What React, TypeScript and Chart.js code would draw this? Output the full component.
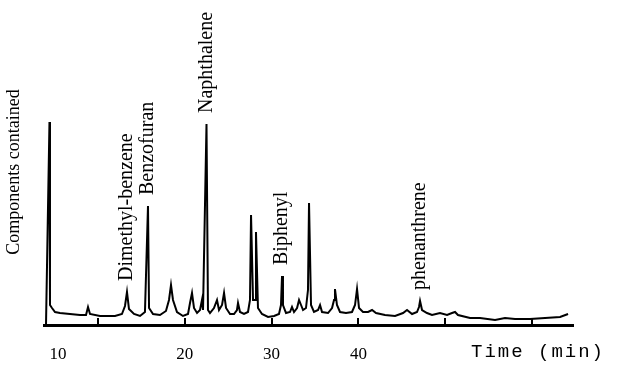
import { useEffect, useRef } from 'react';
import { Chart, registerables } from 'chart.js';

Chart.register(...registerables);

// Chromatogram trace: retention time (min) and detector signal (arbitrary units)
const timeMin = [
  4.01, 4.41, 4.47, 4.70, 5.05, 5.62, 6.77, 7.93, 8.62, 8.85, 9.08, 10.23, 11.96, 12.76,
  13.11, 13.34, 13.57, 14.15, 14.84, 15.41, 15.76, 15.88, 16.34, 17.14, 17.83, 18.18, 18.41,
  18.64, 19.10, 19.79, 20.37, 20.60, 20.83, 21.06, 21.41, 21.75, 21.98, 22.10, 22.50, 22.67,
  22.90, 23.36, 23.71, 23.94, 24.29, 24.52, 24.75, 25.21, 25.67, 26.01, 26.13, 26.36, 26.82,
  27.28, 27.51, 27.63, 27.86, 28.09, 28.20, 28.43, 28.89, 29.59, 30.28, 30.85, 31.08, 31.20,
  31.31, 31.66, 32.12, 32.35, 32.58, 32.93, 33.16, 33.39, 33.62, 33.96, 34.19, 34.31, 34.54,
  34.88, 35.35, 35.58, 35.81, 36.50, 36.96, 37.19, 37.30, 37.53, 37.88, 38.57, 39.26, 39.61,
  39.84, 40.07, 40.53, 41.11, 41.57, 42.03, 43.06, 44.22, 45.14, 45.60, 46.18, 46.75, 46.98,
  47.10, 47.33, 47.90, 48.48, 49.40, 50.21, 50.78, 51.13, 51.47, 52.86, 54.01, 55.74, 56.89,
  58.04, 59.77, 61.50, 63.23, 64.15,
];
const signal = [
  0, 203, 20, 17, 13, 12, 11, 10, 10, 18, 11, 9, 9, 11,
  19, 33, 16, 11, 9, 13, 119, 17, 11, 10, 14, 25, 40,
  25, 13, 9, 11, 22, 32, 17, 12, 15, 25, 15, 201, 15,
  12, 17, 25, 15, 20, 32, 17, 11, 11, 15, 22, 13, 11,
  13, 25, 110, 25, 25, 93, 17, 11, 8, 9, 11, 20, 49,
  20, 12, 13, 18, 13, 17, 25, 20, 15, 17, 35, 122, 20,
  13, 15, 20, 13, 12, 17, 25, 36, 20, 13, 12, 13, 20,
  36, 17, 13, 13, 15, 12, 10, 9, 12, 15, 11, 13, 18,
  24, 15, 12, 10, 12, 10, 12, 13, 10, 7, 7, 5, 7,
  6, 6, 7, 8, 11,
];

const tickMarkTimes = [10, 20, 30, 40, 50, 60];
const tickLabelTimes = [5.4, 20, 30, 40];
const tickLabels = ['10', '20', '30', '40'];

const peakNames = ['Dimethyl-benzene', 'Benzofuran', 'Naphthalene', 'Biphenyl', 'phenanthrene'];
const peakTimes = [13.34, 15.76, 22.5, 31.2, 47.1];

const yTitle = 'Components contained';
const xTitle = 'Time (min)';

const SERIF = '"Liberation Serif", "Times New Roman", serif';
const MONO = '"Liberation Mono", "Courier New", monospace';

function peakHeight(t: number): number {
  let best = 0;
  timeMin.forEach((x, i) => {
    if (Math.abs(x - t) < 0.3 && signal[i] > best) best = signal[i];
  });
  return best;
}

export default function App() {
  const ref = useRef<HTMLCanvasElement>(null);

  useEffect(() => {
    const canvas = ref.current;
    if (!canvas) return;

    const decor = {
      id: 'decor',
      afterDatasetsDraw(chart: any) {
        const { ctx, chartArea } = chart;
        const x = chart.scales.x;
        const y = chart.scales.y;
        ctx.save();
        // small tick marks standing on the time axis
        ctx.strokeStyle = '#000';
        ctx.lineWidth = 2;
        const y0 = y.getPixelForValue(0);
        tickMarkTimes.forEach((t) => {
          const px = Math.round(x.getPixelForValue(t));
          ctx.beginPath();
          ctx.moveTo(px, y0);
          ctx.lineTo(px, y0 - 7);
          ctx.stroke();
        });
        // vertical peak labels
        ctx.fillStyle = '#000';
        ctx.font = `20px ${SERIF}`;
        ctx.textAlign = 'left';
        ctx.textBaseline = 'middle';
        peakNames.forEach((name, i) => {
          const px = x.getPixelForValue(peakTimes[i]);
          const py = y.getPixelForValue(peakHeight(peakTimes[i])) - 11;
          ctx.save();
          ctx.translate(px, py);
          ctx.rotate(-Math.PI / 2);
          ctx.fillText(name, 0, 0);
          ctx.restore();
        });
        // y title
        ctx.font = `18px ${SERIF}`;
        ctx.textAlign = 'center';
        ctx.save();
        ctx.translate(chartArea.left - 30, (chartArea.top + chartArea.bottom) / 2 - 3);
        ctx.rotate(-Math.PI / 2);
        ctx.fillText(yTitle, 0, 0);
        ctx.restore();
        // x title
        ctx.font = `19px ${MONO}`;
        try {
          (ctx as any).letterSpacing = '2px';
        } catch (e) {
          /* ignore */
        }
        ctx.textAlign = 'left';
        ctx.fillText(xTitle, x.right - 102, x.top + 27);
        ctx.restore();
      },
    };

    const chart = new Chart(canvas, {
      type: 'line',
      data: {
        datasets: [
          {
            data: timeMin.map((t, i) => ({ x: t, y: signal[i] })),
            borderColor: '#000',
            borderWidth: 2,
            pointRadius: 0,
            tension: 0,
            fill: false,
          },
        ],
      },
      options: {
        animation: false,
        responsive: false,
        events: [],
        layout: { padding: { left: 44, right: 49, top: 25, bottom: 0 } },
        plugins: { legend: { display: false }, tooltip: { enabled: false } },
        scales: {
          x: {
            type: 'linear',
            min: 3.78,
            max: 64.72,
            afterBuildTicks: (axis: any) => {
              axis.ticks = tickLabelTimes.map((v) => ({ value: v }));
            },
            afterFit: (axis: any) => {
              axis.height = 54;
            },
            ticks: {
              autoSkip: false,
              maxRotation: 0,
              padding: 19,
              color: '#000',
              font: { family: SERIF, size: 17 },
              callback: (_v: any, i: number) => tickLabels[i],
            },
            grid: { display: true, drawOnChartArea: false, drawTicks: false },
            border: { display: true, color: '#000', width: 3 },
          },
          y: { display: false, min: 0, max: 300 },
        },
      },
      plugins: [decor],
    });

    return () => chart.destroy();
  }, []);

  return (
    <div style={{ position: 'fixed', left: 0, top: 0, width: 622, height: 379, background: '#fff' }}>
      <canvas ref={ref} width={622} height={379} style={{ display: 'block' }} />
    </div>
  );
}
